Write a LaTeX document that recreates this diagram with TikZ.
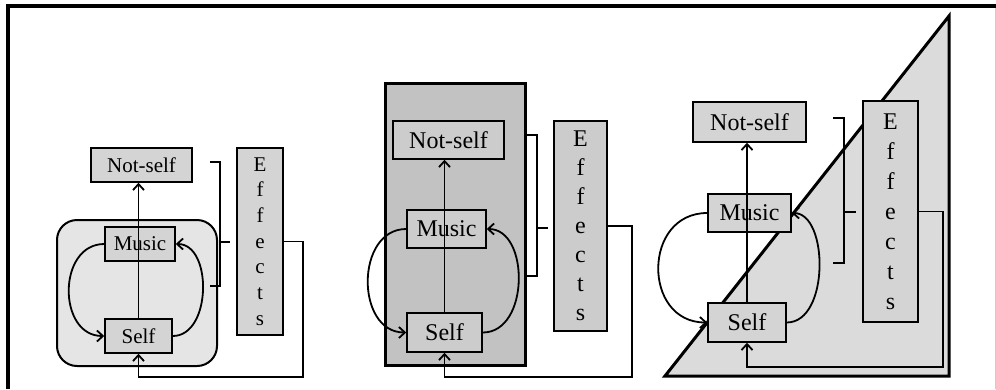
\documentclass[tikz,border=0pt]{standalone}
\usepackage{fontspec}
\setmainfont{Liberation Serif}
\usetikzlibrary{arrows.meta}
\definecolor{boxgray}{gray}{0.83}
\definecolor{roundgray}{gray}{0.90}
\definecolor{darkbg}{gray}{0.76}
\definecolor{darkbox}{gray}{0.80}
\definecolor{trigray}{gray}{0.86}
\newcommand\fsA{\fontsize{21}{25.7}\selectfont}
\newcommand\fsB{\fontsize{24}{29}\selectfont}
\newcommand\fsC{\fontsize{24}{30}\selectfont}
\begin{document}
\begin{tikzpicture}[x=1pt,y=-1pt,
  box/.style={draw, line width=1.5pt, fill=boxgray, inner sep=0pt, anchor=center},
  arr/.style={line width=1.8pt, -{Straight Barb[length=6pt,width=11pt]}},
  brk/.style={line width=1.8pt}]
\useasboundingbox (0,0) rectangle (996,389);
% frame
\draw[line width=3.5pt] (8,389) -- (8,6) -- (996,6);
\draw[gray!40, line width=0.8pt] (995,8) -- (995,389);

% ---------- Panel 1 ----------
\draw[line width=2pt, fill=roundgray, rounded corners=20pt] (57,220) rectangle (217,366);
\node[box, minimum width=101pt, minimum height=34pt, font=\fsA] (ns1) at (141.5,165) {Not-self};
\node[box, minimum width=70pt, minimum height=34pt, font=\fsA] (mu1) at (140,244) {Music};
\node[box, minimum width=67pt, minimum height=34pt, font=\fsA] (se1) at (138.5,336) {Self};
\node[box, minimum width=46pt, minimum height=187pt, font=\fsA, align=center] (ef1) at (260,241.5) {E\\f\\f\\e\\c\\t\\s};
\draw[arr] (se1.north) -- (se1.north |- ns1.south);
\draw[arr] (mu1.west) .. controls +(-47,0) and +(-47,0) .. (se1.west);
\draw[arr] (se1.east) .. controls +(39,0) and +(37,0) .. (mu1.east);
\draw[brk] (210,162) -- (220,162) -- (220,286) -- (210,286);
\draw[brk] (220,242) -- (230,242);
\coordinate (fb1) at (303,377);
\draw[arr] (ef1.east) -| (fb1) -| (se1.south);

% ---------- Panel 2 ----------
\draw[line width=3pt, fill=darkbg] (385,83) rectangle (525,365);
\node[box, fill=darkbox, minimum width=111pt, minimum height=38pt, font=\fsB] (ns2) at (448.5,140) {Not-self};
\node[box, fill=darkbox, minimum width=79pt, minimum height=38pt, font=\fsB] (mu2) at (446.5,229) {Music};
\node[box, fill=darkbox, minimum width=75pt, minimum height=39pt, font=\fsB] (se2) at (444.5,332.5) {Self};
\node[box, fill=darkbox, minimum width=53pt, minimum height=210pt, font=\fsB, align=center] (ef2) at (580.5,226) {E\\f\\f\\e\\c\\t\\s};
\draw[arr] (se2.north) -- (se2.north |- ns2.south);
\draw[arr] (mu2.west) .. controls +(-51,0) and +(-51,0) .. (se2.west);
\draw[arr] (se2.east) .. controls +(47,0) and +(43,0) .. (mu2.east);
\draw[brk] (525,135) -- (537,135) -- (537,276) -- (525,276);
\draw[brk] (537,228) -- (548,228);
\coordinate (fb2) at (632,377);
\draw[arr] (ef2.east) -| (fb2) -| (se2.south);

% ---------- Panel 3 ----------
\draw[line width=3pt, fill=trigray, line join=miter] (665,376) -- (949,16) -- (949,376) -- cycle;
\node[box, minimum width=113pt, minimum height=40pt, font=\fsB] (ns3) at (749.5,122) {Not-self};
\node[box, minimum width=83pt, minimum height=38pt, font=\fsB] (mu3) at (749.5,213) {Music};
\node[box, minimum width=78pt, minimum height=39pt, font=\fsB] (se3) at (747,322.5) {Self};
\node[box, minimum width=55pt, minimum height=221pt, font=\fsC, align=center] (ef3) at (890.5,211.5) {E\\f\\f\\e\\c\\t\\s};
\draw[arr] (se3.north) -- (se3.north |- ns3.south);
\draw[arr] (mu3.west) .. controls +(-65,0) and +(-65,0) .. (se3.west);
\draw[arr] (se3.east) .. controls +(43,0) and +(37,0) .. (mu3.east);
\draw[brk] (833,118) -- (844,118) -- (844,263) -- (833,263);
\draw[brk] (844,212) -- (856,212);
\coordinate (fb3) at (943,367);
\draw[arr] (ef3.east) -| (fb3) -| (se3.south);
\end{tikzpicture}
\end{document}
